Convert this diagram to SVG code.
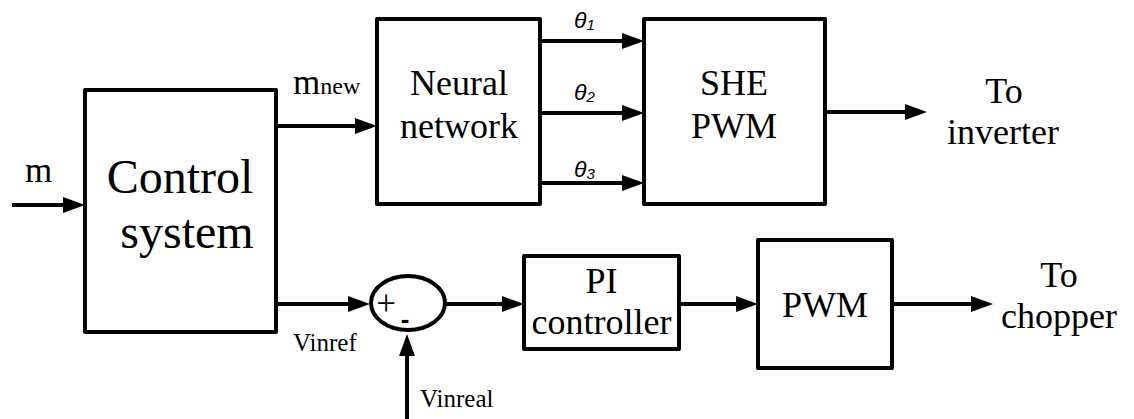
<svg xmlns="http://www.w3.org/2000/svg" width="1134" height="419" viewBox="0 0 1134 419">
<defs>
<marker id="arr" markerUnits="userSpaceOnUse" markerWidth="24" markerHeight="16" refX="14" refY="8" orient="auto" viewBox="0 0 24 16">
<path d="M0,0 L22,8 L0,16 z" fill="#000"/>
</marker>
<style>
.box{fill:#fff;stroke:#000;stroke-width:4;stroke-linejoin:round}
.ln{fill:none;stroke:#000;stroke-width:4;marker-end:url(#arr)}
.t{font-family:'Liberation Serif','Times New Roman',serif;fill:#000}
.big{font-size:48px;text-anchor:middle}
.mid{font-size:36px;text-anchor:middle}
.lab{font-size:25px}
.th{font-family:'Liberation Sans',Arial,sans-serif;font-style:italic;font-size:23px;fill:#000}
.sub{font-size:15px}
</style>
</defs>
<rect width="1134" height="419" fill="#fff"/>
<g id="connectors">
<line class="ln" x1="12" y1="205" x2="77" y2="205"/>
<line class="ln" x1="276" y1="126" x2="369" y2="126"/>
<line class="ln" x1="540" y1="41" x2="636" y2="41"/>
<line class="ln" x1="540" y1="113" x2="636" y2="113"/>
<line class="ln" x1="540" y1="183" x2="636" y2="183"/>
<line class="ln" x1="825" y1="112" x2="919" y2="112"/>
<line class="ln" x1="276" y1="304" x2="362" y2="304"/>
<line class="ln" x1="407" y1="419" x2="407" y2="342"/>
<line class="ln" x1="445" y1="304" x2="516" y2="304"/>
<line class="ln" x1="679" y1="304" x2="750" y2="304"/>
<line class="ln" x1="892" y1="304" x2="985" y2="304"/>
</g>
<g id="control-system">
<rect class="box" x="85" y="90" width="191" height="242"/>
<text class="t big" x="180" y="193">Control</text>
<text class="t big" x="187" y="248">system</text>
</g>
<g id="neural-network">
<rect class="box" x="377" y="19" width="163" height="185"/>
<text class="t mid" x="459" y="95">Neural</text>
<text class="t mid" x="459" y="138">network</text>
</g>
<g id="she-pwm">
<rect class="box" x="644" y="19" width="181" height="185"/>
<text class="t mid" x="734" y="95">SHE</text>
<text class="t mid" x="734" y="138">PWM</text>
</g>
<g id="sum">
<ellipse cx="408" cy="303" rx="37" ry="27" fill="#fff" stroke="#000" stroke-width="4"/>
<text class="t" x="386" y="315" font-size="35" text-anchor="middle">+</text>
<text x="405" y="328" font-family="Liberation Sans, Arial, sans-serif" font-weight="bold" font-size="26" text-anchor="middle">-</text>
</g>
<g id="pi-controller">
<rect class="box" x="524" y="256" width="155" height="93"/>
<text class="t mid" x="601.5" y="293">PI</text>
<text class="t mid" x="601.5" y="334">controller</text>
</g>
<g id="pwm">
<rect class="box" x="758" y="240" width="134" height="128"/>
<text class="t mid" x="825" y="317">PWM</text>
</g>
<g id="to-inverter">
<text class="t mid" x="1004" y="103">To</text>
<text class="t mid" x="1003" y="144">inverter</text>
</g>
<g id="to-chopper">
<text class="t mid" x="1059" y="287">To</text>
<text class="t mid" x="1059" y="328">chopper</text>
</g>
<g id="labels">
<text class="t" x="25" y="182" font-size="35">m</text>
<text class="t" x="293" y="94" font-size="35">m<tspan font-size="24">new</tspan></text>
<text class="th" x="574" y="28">θ<tspan class="sub" dy="2">1</tspan></text>
<text class="th" x="574" y="100">θ<tspan class="sub" dy="2">2</tspan></text>
<text class="th" x="574" y="177">θ<tspan class="sub" dy="2">3</tspan></text>
<text class="t lab" x="293" y="351">Vinref</text>
<text class="t lab" x="420" y="407">Vinreal</text>
</g>
</svg>
